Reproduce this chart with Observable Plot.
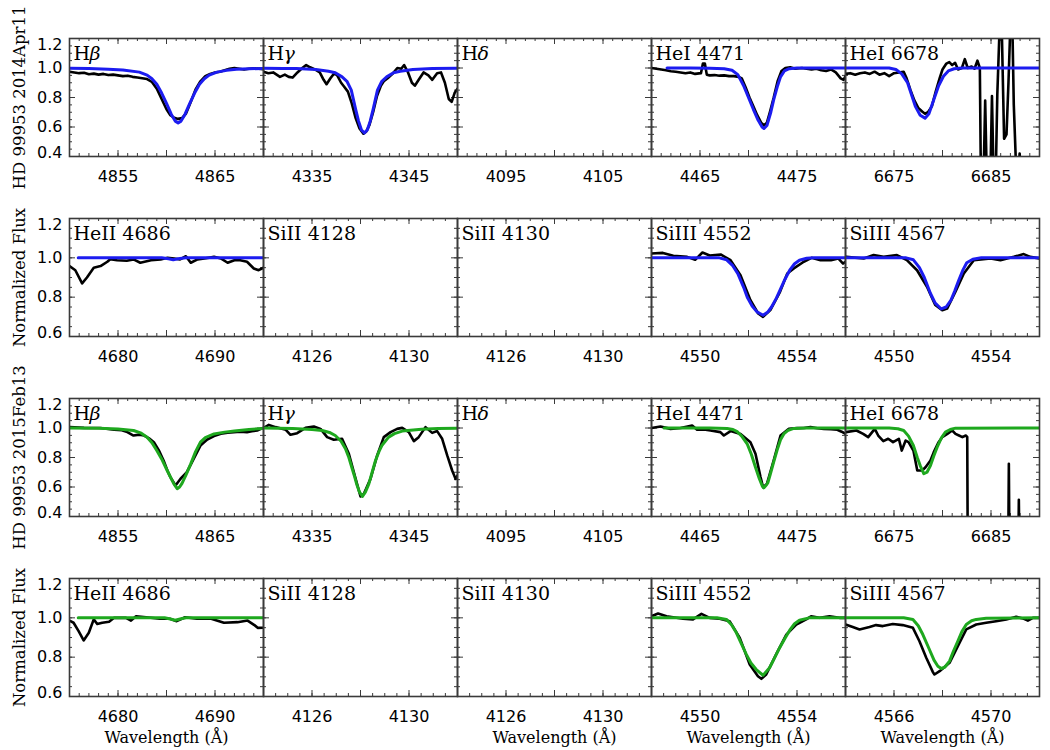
<!DOCTYPE html>
<html>
<head>
<meta charset="utf-8">
<script src="https://cdn.jsdelivr.net/npm/d3@7"></script>
<script src="https://cdn.jsdelivr.net/npm/@observablehq/plot@0.6"></script>
<style>
  body { margin: 0; background: #fff; }
  #fig { position: relative; width: 1050px; height: 750px; background: #fff; }
</style>
</head>
<body>
<div id="fig"></div>
<script>
// ---------- labels ----------
const epochLabels = ["HD 99953 2014Apr11", "HD 99953 2015Feb13"];
const fluxLabel = "Normalized Flux";
const waveLabel = "Wavelength (Å)";
const topTitles = ["Hβ", "Hγ", "Hδ", "HeI 4471", "HeI 6678"];
const bottomTitles = ["HeII 4686", "SiII 4128", "SiII 4130", "SiIII 4552", "SiIII 4567"];

// ---------- axis ranges and tick labels ----------
const topDomains = [[4850, 4870], [4330, 4350], [4090, 4110], [4460, 4480], [6670, 6690]];
const topTickLabels = [[4855, 4865], [4335, 4345], [4095, 4105], [4465, 4475], [6675, 6685]];
const bottomDomains2014 = [[4675, 4695], [4124, 4132], [4124, 4132], [4548, 4556], [4548, 4556]];
const bottomTickLabels2014 = [[4680, 4690], [4126, 4130], [4126, 4130], [4550, 4554], [4550, 4554]];
const bottomDomains2015 = [[4675, 4695], [4124, 4132], [4124, 4132], [4548, 4556], [4564, 4572]];
const bottomTickLabels2015 = [[4680, 4690], [4126, 4130], [4126, 4130], [4550, 4554], [4566, 4570]];
const balmerFluxRange = [0.4, 1.2];
const balmerFluxTicks = [0.4, 0.6, 0.8, 1.0, 1.2];
const metalFluxRange = [0.6, 1.2];
const metalFluxTicks = [0.6, 0.8, 1.0, 1.2];

// ---------- 2014Apr11: observed spectra and model fits ----------
const hb14Obs = [[4850,0.975],[4850.5,0.97],[4851,0.965],[4851.5,0.968],[4852,0.958],[4852.5,0.962],[4853,0.955],[4853.5,0.96],[4854,0.952],[4854.5,0.955],[4855,0.95],[4855.5,0.945],[4856,0.948],[4856.5,0.94],[4857,0.935],[4857.5,0.93],[4858,0.925],[4858.5,0.905],[4859,0.86],[4859.5,0.79],[4860,0.72],[4860.4,0.68],[4860.8,0.662],[4861.2,0.655],[4861.6,0.66],[4862,0.69],[4862.5,0.77],[4863,0.855],[4863.5,0.91],[4864,0.945],[4864.5,0.96],[4865,0.97],[4865.5,0.975],[4866,0.985],[4866.5,0.995],[4867,1.0],[4867.5,0.995],[4868,0.99],[4868.5,0.995],[4869,0.998],[4869.5,0.995],[4870,0.992]];
const hb14Fit = [[4850,0.998],[4852,0.996],[4854,0.992],[4855.5,0.987],[4857.2,0.972],[4858,0.952],[4858.5,0.927],[4859,0.89],[4859.5,0.83],[4860,0.76],[4860.5,0.685],[4860.9,0.64],[4861.2,0.628],[4861.5,0.64],[4861.9,0.685],[4862.4,0.76],[4862.9,0.83],[4863.4,0.89],[4863.9,0.927],[4864.4,0.952],[4865.2,0.972],[4866.2,0.984],[4867.2,0.991],[4868.5,0.995],[4870,0.997]];

const hg14Obs = [[4330,0.975],[4330.5,0.965],[4331,0.97],[4331.7,0.94],[4332.2,0.955],[4332.6,0.94],[4333,0.935],[4333.5,0.97],[4334,1.0],[4334.4,1.02],[4334.8,1.005],[4335.3,0.99],[4335.8,0.97],[4336.2,0.92],[4336.5,0.89],[4336.9,0.93],[4337.3,0.965],[4337.6,0.95],[4338,0.9],[4338.3,0.875],[4338.7,0.84],[4339.1,0.76],[4339.5,0.66],[4339.9,0.59],[4340.3,0.555],[4340.6,0.57],[4340.9,0.61],[4341.3,0.7],[4341.7,0.81],[4342.1,0.88],[4342.4,0.91],[4342.8,0.93],[4343.3,0.96],[4343.8,1.0],[4344.2,0.995],[4344.5,1.02],[4344.9,0.97],[4345.3,0.9],[4345.6,0.88],[4346,0.92],[4346.5,0.97],[4347,0.95],[4347.4,0.92],[4347.9,0.965],[4348.3,0.97],[4348.7,0.9],[4349.1,0.79],[4349.4,0.77],[4349.7,0.83],[4350,0.86]];
const hg14Fit = [[4330,0.999],[4332,0.997],[4333.4,0.996],[4335.4,0.99],[4336.7,0.978],[4337.4,0.968],[4338.1,0.94],[4338.6,0.91],[4339.05,0.85],[4339.5,0.72],[4339.8,0.64],[4340.1,0.58],[4340.4,0.56],[4340.7,0.58],[4341,0.64],[4341.3,0.72],[4341.75,0.85],[4342.2,0.91],[4342.7,0.94],[4343.4,0.968],[4344.1,0.978],[4345.4,0.99],[4347.4,0.996],[4350,0.999]];

const he4471_14Obs = [[4460,1.0],[4460.5,0.995],[4461,0.99],[4461.5,0.985],[4462,0.978],[4462.5,0.975],[4463,0.97],[4463.5,0.965],[4464,0.97],[4464.5,0.96],[4465.1,0.965],[4465.3,1.03],[4465.5,1.03],[4465.7,0.955],[4466,0.95],[4466.5,0.952],[4467,0.948],[4467.5,0.95],[4468,0.945],[4468.5,0.945],[4469,0.94],[4469.3,0.93],[4469.7,0.87],[4470.1,0.8],[4470.5,0.74],[4470.9,0.68],[4471.3,0.63],[4471.6,0.61],[4471.9,0.63],[4472.2,0.7],[4472.6,0.8],[4473,0.91],[4473.4,0.98],[4473.8,1.0],[4474.3,1.005],[4474.8,0.995],[4475.5,1.0],[4476,0.995],[4476.5,0.99],[4477,0.995],[4477.5,0.985],[4478,0.98],[4478.5,0.99],[4479,0.97],[4479.5,0.93],[4479.8,0.92],[4480,0.945]];
const he4471_14Fit = [[4461.6,1.0],[4464,1.0],[4466,0.999],[4467.5,0.995],[4468.3,0.985],[4468.9,0.955],[4469.5,0.88],[4470,0.8],[4470.5,0.72],[4471,0.645],[4471.4,0.6],[4471.6,0.59],[4471.9,0.61],[4472.3,0.7],[4472.6,0.785],[4473,0.88],[4473.3,0.94],[4473.7,0.98],[4474.2,0.995],[4475,1.0],[4480,1.0]];

const he6678_14Obs = [[6670,0.96],[6670.5,0.965],[6671,0.955],[6671.5,0.965],[6672,0.97],[6672.5,0.96],[6673,0.975],[6673.5,0.955],[6674,0.965],[6674.5,0.945],[6675,0.965],[6675.5,0.97],[6676,0.975],[6676.3,0.93],[6676.7,0.85],[6677.1,0.78],[6677.5,0.73],[6677.9,0.705],[6678.2,0.69],[6678.5,0.7],[6678.9,0.74],[6679.3,0.84],[6679.7,0.93],[6680,0.99],[6680.4,1.03],[6680.7,1.04],[6681,1.02],[6681.3,1.035],[6681.6,0.99],[6682,1.0],[6682.3,1.06],[6682.6,1.0],[6683,1.01],[6683.3,0.995],[6683.6,1.05],[6683.85,1.0],[6683.95,0.3],[6684.25,0.3],[6684.4,0.78],[6684.55,0.3],[6684.95,0.3],[6685.1,0.81],[6685.25,0.3],[6685.5,0.3],[6685.65,0.82],[6685.9,1.3],[6686.1,1.3],[6686.35,0.52],[6686.6,0.55],[6686.8,0.9],[6687,1.3],[6687.2,1.3],[6687.35,0.75],[6687.6,0.3],[6687.85,0.3],[6687.95,0.42],[6688.1,0.3],[6690,0.3]];
const he6678_14Fit = [[6670,1.0],[6674.5,1.0],[6675.2,0.99],[6675.8,0.96],[6676.4,0.9],[6676.8,0.82],[6677.2,0.74],[6677.7,0.68],[6678.2,0.66],[6678.6,0.69],[6679.1,0.785],[6679.6,0.88],[6680.1,0.944],[6680.6,0.98],[6681.2,0.995],[6682,1.0],[6690,1.0]];

const heII14Obs = [[4675,0.958],[4675.6,0.937],[4676.3,0.87],[4676.8,0.9],[4677.5,0.95],[4678.2,0.958],[4678.9,0.98],[4679.2,0.993],[4679.9,0.988],[4680.9,0.985],[4681.6,0.992],[4682.3,0.975],[4683.4,0.988],[4684.4,0.992],[4685.1,1.0],[4685.8,0.997],[4686.4,0.992],[4687,1.008],[4687.5,0.975],[4688.2,0.992],[4688.9,0.997],[4689.9,1.005],[4690.6,0.997],[4691.3,0.975],[4692,0.988],[4692.6,0.988],[4693.3,0.98],[4694,0.946],[4694.5,0.937],[4695,0.95]];
const heII14Fit = [[4675.9,1.0],[4684.5,1.0],[4685.2,0.995],[4685.7,0.99],[4686.2,0.995],[4687,1.0],[4695,1.0]];

const si4552_14Obs = [[4548,1.022],[4548.47,1.025],[4548.9,1.01],[4549.47,1.005],[4549.8,0.99],[4550.1,1.027],[4550.4,1.012],[4550.85,1.017],[4551.26,0.988],[4551.67,0.912],[4552.08,0.785],[4552.4,0.717],[4552.6,0.7],[4552.9,0.734],[4553.3,0.827],[4553.6,0.92],[4553.87,0.946],[4554.28,0.98],[4554.6,1.0],[4554.97,0.988],[4555.4,0.988],[4555.7,0.997],[4555.9,0.971],[4556,0.98]];
const si4552_14Fit = [[4548,1.0],[4550.8,1.0],[4551.1,0.99],[4551.35,0.96],[4551.56,0.92],[4551.8,0.85],[4551.95,0.8],[4552.15,0.755],[4552.35,0.725],[4552.6,0.708],[4552.8,0.725],[4552.95,0.75],[4553.15,0.795],[4553.3,0.836],[4553.5,0.89],[4553.7,0.937],[4553.9,0.97],[4554.1,0.988],[4554.4,0.998],[4554.7,1.0],[4556,1.0]];

const si4567_14Obs = [[4548.04,1.005],[4548.75,0.997],[4549.16,1.014],[4549.57,1.005],[4550.12,1.014],[4550.53,0.988],[4550.95,0.937],[4551.36,0.853],[4551.7,0.76],[4551.99,0.734],[4552.19,0.742],[4552.53,0.827],[4552.88,0.92],[4553.29,0.988],[4553.98,0.997],[4554.39,0.988],[4554.94,1.005],[4555.35,1.019],[4555.62,1.005],[4556,0.997]];
const si4567_14Fit = [[4548,1.0],[4550.5,1.0],[4550.8,0.99],[4551.05,0.95],[4551.25,0.9],[4551.5,0.82],[4551.7,0.77],[4551.95,0.74],[4552.15,0.75],[4552.35,0.785],[4552.5,0.83],[4552.67,0.886],[4552.85,0.94],[4553,0.975],[4553.25,0.993],[4553.6,1.0],[4556,1.0]];

// ---------- 2015Feb13: observed spectra and model fits ----------
const hb15Obs = [[4850,1.006],[4851.5,1.001],[4853.2,1.0],[4854.6,0.988],[4855.4,0.985],[4855.96,0.972],[4856.6,0.949],[4857.2,0.955],[4857.7,0.949],[4858.2,0.93],[4858.7,0.904],[4859.2,0.85],[4859.7,0.78],[4860.1,0.71],[4860.4,0.667],[4860.93,0.61],[4861.45,0.656],[4862.1,0.701],[4862.8,0.791],[4863.5,0.881],[4864.2,0.922],[4864.9,0.945],[4865.6,0.961],[4866.3,0.968],[4866.95,0.972],[4867.6,0.975],[4868.3,0.972],[4868.8,0.978],[4869.35,0.983],[4869.9,0.999]];
const hb15Fit = [[4850,1.0],[4853,0.998],[4855,0.993],[4856.6,0.983],[4857.4,0.965],[4858,0.938],[4858.5,0.9],[4859,0.847],[4859.5,0.79],[4860.07,0.712],[4860.5,0.655],[4860.76,0.621],[4861.1,0.588],[4861.35,0.6],[4861.6,0.625],[4862,0.68],[4862.5,0.757],[4863,0.84],[4863.5,0.904],[4864,0.935],[4864.9,0.96],[4866,0.972],[4867,0.98],[4868.5,0.99],[4870,0.997]];

const hg15Obs = [[4330,1.001],[4330.55,1.021],[4331.24,1.006],[4332.3,0.988],[4332.78,0.954],[4333.47,0.965],[4334.33,1.001],[4335.19,1.01],[4335.88,0.994],[4336.56,0.938],[4337.25,0.92],[4338.1,0.927],[4338.8,0.825],[4339.5,0.655],[4340,0.536],[4340.35,0.554],[4341.03,0.655],[4341.72,0.814],[4342.4,0.938],[4343.1,0.972],[4343.78,0.994],[4344.3,1.001],[4344.98,0.972],[4345.5,0.911],[4346,0.938],[4346.7,1.006],[4347.39,0.967],[4347.9,0.979],[4348.42,0.927],[4348.94,0.814],[4349.45,0.712],[4349.8,0.655],[4350,0.678]];
const hg15Fit = [[4330,1.0],[4333,0.997],[4335,0.99],[4336.05,0.983],[4336.8,0.97],[4337.4,0.949],[4338,0.91],[4338.45,0.859],[4338.8,0.8],[4339.1,0.734],[4339.35,0.68],[4339.6,0.621],[4339.9,0.565],[4340.2,0.536],[4340.5,0.565],[4340.86,0.621],[4341.2,0.7],[4341.55,0.78],[4341.9,0.84],[4342.2,0.881],[4342.9,0.938],[4343.5,0.962],[4344.3,0.979],[4346.3,0.992],[4348,0.997],[4350,0.999]];

const he4471_15Obs = [[4460,1.0],[4460.93,1.01],[4461.96,0.994],[4463,1.0],[4464.19,1.017],[4464.7,0.988],[4465.4,0.99],[4466.08,0.983],[4467.1,0.972],[4467.46,0.949],[4468.15,0.979],[4469.18,0.96],[4470.2,0.904],[4470.72,0.825],[4471.24,0.667],[4471.5,0.599],[4471.9,0.621],[4472.6,0.78],[4473.3,0.949],[4474.16,0.994],[4475,0.999],[4475.7,1.0],[4476.39,1.006],[4477.1,0.998],[4477.77,0.994],[4478.5,0.992],[4479.15,0.988],[4479.6,0.975],[4480,0.96]];
const he4471_15Fit = [[4461.3,1.0],[4466,1.0],[4467.8,0.997],[4468.4,0.99],[4468.83,0.975],[4469.3,0.945],[4469.86,0.893],[4470.3,0.82],[4470.72,0.734],[4471.1,0.66],[4471.4,0.61],[4471.57,0.594],[4471.8,0.61],[4472,0.63],[4472.26,0.69],[4472.6,0.77],[4472.95,0.85],[4473.3,0.92],[4473.64,0.96],[4474.1,0.985],[4474.67,0.997],[4476,1.0],[4480,1.0]];

const he6678_15Obs = [[6670.03,0.972],[6671.13,0.983],[6671.82,0.96],[6672.34,0.938],[6673.02,0.994],[6673.37,0.949],[6673.9,0.911],[6674.4,0.927],[6674.9,0.904],[6675.5,0.927],[6675.8,0.847],[6676.2,0.915],[6676.5,0.904],[6677,0.847],[6677.4,0.712],[6677.9,0.712],[6678.25,0.734],[6678.76,0.78],[6679.1,0.836],[6679.6,0.904],[6679.97,0.938],[6680.5,0.96],[6681,0.983],[6681.34,0.96],[6681.7,0.949],[6682.05,0.938],[6682.4,0.949],[6682.55,0.94],[6682.6,0.2],[6686.78,0.2],[6686.84,0.757],[6686.9,0.2],[6687.82,0.2],[6687.87,0.513],[6687.93,0.2],[6690,0.2]];
const he6678_15Fit = [[6670,1.0],[6674.5,1.0],[6675.4,0.995],[6676,0.983],[6676.5,0.945],[6677,0.881],[6677.4,0.8],[6677.7,0.745],[6678.07,0.69],[6678.4,0.7],[6678.76,0.745],[6679.1,0.81],[6679.45,0.87],[6679.9,0.935],[6680.3,0.972],[6680.8,0.99],[6681.34,0.999],[6690,1.0]];

const heII15Obs = [[4675,0.986],[4675.42,0.975],[4675.94,0.932],[4676.46,0.885],[4676.99,0.924],[4677.5,0.992],[4677.86,0.969],[4678.38,0.975],[4679.08,0.98],[4679.6,1.0],[4680.82,1.0],[4681.34,0.986],[4681.86,1.008],[4682.9,1.003],[4684.3,0.995],[4685.35,0.995],[4686.05,0.983],[4686.92,1.003],[4688.14,0.995],[4689.53,0.997],[4690.92,0.975],[4692.32,0.978],[4693.36,0.986],[4694.06,0.963],[4694.4,0.949],[4695,0.95]];
const heII15Fit = [[4675.9,1.0],[4684.8,1.0],[4685.4,0.994],[4685.9,0.988],[4686.4,0.994],[4687,1.0],[4695,1.0]];

const si4552_15Obs = [[4548,1.008],[4548.27,1.022],[4548.62,1.008],[4549.3,0.995],[4549.71,0.992],[4550.06,1.02],[4550.4,1.0],[4550.81,0.995],[4551.22,0.983],[4551.64,0.898],[4552.05,0.763],[4552.39,0.703],[4552.53,0.69],[4552.73,0.712],[4553.14,0.814],[4553.56,0.915],[4553.97,0.966],[4554.38,0.992],[4554.58,1.008],[4554.93,1.0],[4555.34,1.008],[4555.75,1.0],[4556,1.0]];
const si4552_15Fit = [[4548,1.0],[4550.7,1.0],[4551.09,0.992],[4551.3,0.965],[4551.5,0.924],[4551.7,0.87],[4551.91,0.814],[4552.1,0.77],[4552.32,0.737],[4552.6,0.708],[4552.87,0.746],[4553.05,0.79],[4553.28,0.847],[4553.5,0.895],[4553.7,0.937],[4553.9,0.97],[4554.1,0.988],[4554.5,1.0],[4556,1.0]];

const si4567_15Obs = [[4564,0.966],[4564.3,0.953],[4564.58,0.941],[4564.99,0.953],[4565.26,0.963],[4565.54,0.958],[4565.95,0.969],[4566.36,0.963],[4566.78,0.949],[4567.05,0.881],[4567.33,0.797],[4567.6,0.725],[4567.67,0.712],[4567.88,0.729],[4568.29,0.771],[4568.7,0.873],[4568.98,0.941],[4569.39,0.966],[4569.8,0.975],[4570.21,0.983],[4570.63,0.992],[4571.04,1.005],[4571.31,0.997],[4571.52,0.986],[4571.73,1.0],[4572,1.0]];
const si4567_15Fit = [[4564,1.0],[4566.4,1.0],[4566.78,0.992],[4567,0.96],[4567.19,0.915],[4567.46,0.839],[4567.65,0.785],[4567.81,0.754],[4567.95,0.742],[4568.1,0.75],[4568.29,0.78],[4568.45,0.83],[4568.63,0.881],[4568.8,0.93],[4568.98,0.966],[4569.2,0.985],[4569.39,0.992],[4569.8,0.998],[4572,1.0]];

// ---------- panel table ----------
const fit2014Color = "#1c1cf0";
const fit2015Color = "#1ea81e";
const rows = [
  {titles: topTitles, domains: topDomains, ticks: topTickLabels, yDomain: balmerFluxRange, yTicks: balmerFluxTicks,
   obs: [hb14Obs, hg14Obs, null, he4471_14Obs, he6678_14Obs], fit: [hb14Fit, hg14Fit, null, he4471_14Fit, he6678_14Fit],
   color: fit2014Color, side: epochLabels[0], xTitle: false},
  {titles: bottomTitles, domains: bottomDomains2014, ticks: bottomTickLabels2014, yDomain: metalFluxRange, yTicks: metalFluxTicks,
   obs: [heII14Obs, null, null, si4552_14Obs, si4567_14Obs], fit: [heII14Fit, null, null, si4552_14Fit, si4567_14Fit],
   color: fit2014Color, side: fluxLabel, xTitle: false},
  {titles: topTitles, domains: topDomains, ticks: topTickLabels, yDomain: balmerFluxRange, yTicks: balmerFluxTicks,
   obs: [hb15Obs, hg15Obs, null, he4471_15Obs, he6678_15Obs], fit: [hb15Fit, hg15Fit, null, he4471_15Fit, he6678_15Fit],
   color: fit2015Color, side: epochLabels[1], xTitle: false},
  {titles: bottomTitles, domains: bottomDomains2015, ticks: bottomTickLabels2015, yDomain: metalFluxRange, yTicks: metalFluxTicks,
   obs: [heII15Obs, null, null, si4552_15Obs, si4567_15Obs], fit: [heII15Fit, null, null, si4552_15Fit, si4567_15Fit],
   color: fit2015Color, side: fluxLabel, xTitle: [true, false, true, true, true]}
];

// ---------- layout ----------
const W = 194, H = 118;
const colLeft = [69, 263, 457, 651, 845];
const rowTop = [38, 218, 398, 578];
const axisColor = "#3a3a3a";
const serif = "DejaVu Serif";
const sans = "DejaVu Sans";
const fig = document.getElementById("fig");
const fmt = d3.format(".1f");

function stepTicks(domain, step) {
  const out = [];
  const start = Math.ceil(domain[0] / step - 1e-9);
  const stop = Math.floor(domain[1] / step + 1e-9);
  for (let i = start; i <= stop; i++) out.push(+(i * step).toFixed(4));
  return out;
}

function titleMarks(title) {
  const greek = title.match(/^H([βγδ])$/);
  const base = {frameAnchor: "top-left", textAnchor: "start", lineAnchor: "top", fontFamily: serif, fontSize: 19, fill: "black", dy: 8};
  if (greek) {
    return [
      Plot.text(["H"], {...base, text: d => d, dx: 4}),
      Plot.text([greek[1]], {...base, text: d => d, dx: 20, fontStyle: "italic"})
    ];
  }
  return [Plot.text([title], {...base, text: d => d, dx: 4})];
}

function panel(r, c) {
  const row = rows[r];
  const xDomain = row.domains[c];
  const span = xDomain[1] - xDomain[0];
  const xMajor = stepTicks(xDomain, span > 10 ? 5 : 2);
  const xMinor = stepTicks(xDomain, span > 10 ? 1 : 0.5);
  const yMajor = stepTicks(row.yDomain, 0.2);
  const yMinor = stepTicks(row.yDomain, 0.05);
  const tick = {stroke: axisColor, strokeWidth: 1};
  const marks = [
    Plot.tickX(xMinor, {x: d => d, insetTop: H - 3, ...tick}),
    Plot.tickX(xMinor, {x: d => d, insetBottom: H - 3, ...tick}),
    Plot.tickX(xMajor, {x: d => d, insetTop: H - 6, ...tick}),
    Plot.tickX(xMajor, {x: d => d, insetBottom: H - 6, ...tick}),
    Plot.tickY(yMinor, {y: d => d, insetRight: W - 3, ...tick}),
    Plot.tickY(yMinor, {y: d => d, insetLeft: W - 3, ...tick}),
    Plot.tickY(yMajor, {y: d => d, insetRight: W - 6, ...tick}),
    Plot.tickY(yMajor, {y: d => d, insetLeft: W - 6, ...tick})
  ];
  if (row.obs[c]) marks.push(Plot.line(row.obs[c], {x: d => d[0], y: d => d[1], stroke: "black", strokeWidth: 2.6, clip: true}));
  if (row.fit[c]) marks.push(Plot.line(row.fit[c], {x: d => d[0], y: d => d[1], stroke: row.color, strokeWidth: 3, clip: true}));
  marks.push(Plot.frame({stroke: axisColor, strokeWidth: 1.6}));
  marks.push(Plot.axisX(row.ticks[c], {tickSize: 0, tickPadding: 14, fontSize: 16, fontFamily: sans, fill: "black", tickFormat: d => String(d)}));
  marks.push(...titleMarks(row.titles[c]));
  if (c === 0) {
    const yt = row.yTicks;
    const inner = yt.slice(1, -1);
    const yAxis = {tickSize: 0, tickPadding: 7, fontSize: 16, fontFamily: sans, fill: "black", tickFormat: fmt};
    marks.push(Plot.axisY(inner, yAxis));
    marks.push(Plot.axisY([yt[yt.length - 1]], {...yAxis, dy: 6}));
    marks.push(Plot.axisY([yt[0]], {...yAxis, dy: -4}));
    marks.push(Plot.text([row.side], {text: d => d, frameAnchor: "left", dx: -50, rotate: -90, textAnchor: "middle", lineAnchor: "middle", fontFamily: serif, fontSize: 16.5, fill: "black"}));
  }
  if (row.xTitle && row.xTitle[c]) {
    marks.push(Plot.text([waveLabel], {text: d => d, frameAnchor: "bottom", dy: 41, textAnchor: "middle", lineAnchor: "middle", fontFamily: serif, fontSize: 16, fill: "black"}));
  }
  const svg = Plot.plot({
    width: W, height: H,
    marginTop: 0, marginRight: 0, marginBottom: 0, marginLeft: 0,
    x: {domain: xDomain, axis: null},
    y: {domain: row.yDomain, axis: null},
    marks
  });
  Object.assign(svg.style, {
    position: "absolute", left: colLeft[c] + "px", top: rowTop[r] + "px",
    background: "none", overflow: "visible", maxWidth: "none"
  });
  fig.appendChild(svg);
}

for (let r = 0; r < rows.length; r++) for (let c = 0; c < 5; c++) panel(r, c);
</script>
</body>
</html>
